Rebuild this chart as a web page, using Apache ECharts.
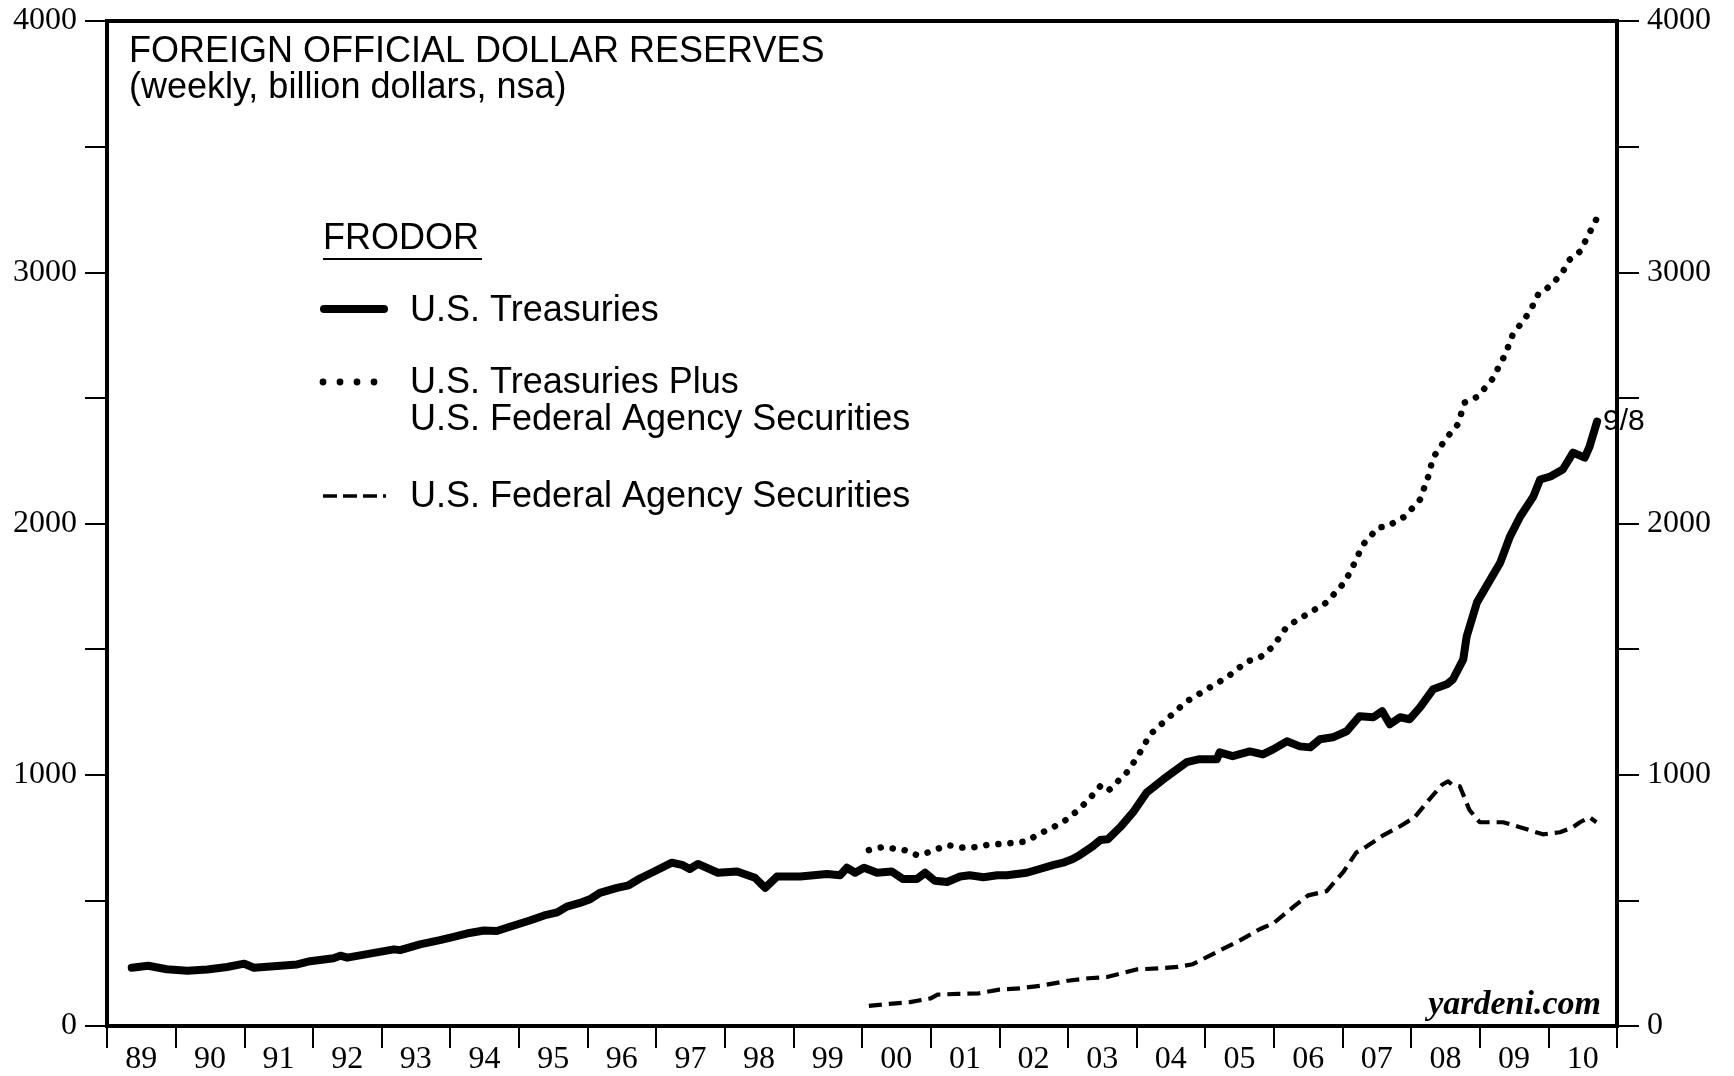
<!DOCTYPE html>
<html>
<head>
<meta charset="utf-8">
<script src="https://cdn.jsdelivr.net/npm/echarts@6/dist/echarts.min.js"></script>
<style>
html,body{margin:0;padding:0;background:#fff;}
#chart{width:1734px;height:1076px;}
</style>
</head>
<body>
<div id="chart"></div>
<script>
// ---- Data ----
const yearLabels = ['89','90','91','92','93','94','95','96','97','98','99','00','01','02','03','04','05','06','07','08','09','10'];

// U.S. Treasuries (billion $), dates as decimal years
const tsyDates = [1989.36,1989.6,1989.87,1990.17,1990.46,1990.75,1991.0,1991.14,1991.43,1991.77,1991.96,1992.3,1992.4,1992.5,1992.83,1993.18,1993.27,1993.56,1993.85,1994.05,1994.24,1994.49,1994.68,1994.87,1995.16,1995.37,1995.56,1995.7,1995.89,1996.04,1996.18,1996.43,1996.6,1996.77,1996.95,1997.23,1997.39,1997.49,1997.61,1997.9,1998.18,1998.44,1998.59,1998.76,1999.1,1999.49,1999.68,1999.78,1999.9,2000.03,2000.22,2000.43,2000.6,2000.8,2000.92,2001.06,2001.24,2001.43,2001.57,2001.77,2001.97,2002.11,2002.4,2002.59,2002.78,2002.93,2003.07,2003.17,2003.36,2003.47,2003.58,2003.76,2003.95,2004.15,2004.39,2004.59,2004.73,2004.92,2005.17,2005.21,2005.4,2005.65,2005.84,2005.99,2006.19,2006.38,2006.53,2006.67,2006.86,2007.06,2007.25,2007.45,2007.58,2007.69,2007.84,2007.98,2008.13,2008.32,2008.52,2008.61,2008.76,2008.81,2008.96,2009.3,2009.44,2009.59,2009.78,2009.88,2010.03,2010.21,2010.36,2010.53,2010.6,2010.71];
const tsyValues = [232,240,226,220,225,235,248,232,238,245,258,270,280,272,288,305,302,325,342,355,368,380,378,395,420,440,452,475,490,505,530,550,560,588,612,650,640,625,645,610,615,590,550,595,595,605,600,630,610,630,610,615,585,585,610,578,573,595,600,592,600,600,610,625,640,650,665,680,715,740,743,791,851,930,982,1022,1050,1062,1062,1089,1074,1093,1081,1101,1133,1113,1109,1141,1149,1173,1233,1229,1253,1201,1229,1221,1268,1340,1360,1380,1459,1551,1686,1845,1948,2028,2107,2175,2187,2215,2282,2262,2306,2406];

// U.S. Treasuries plus U.S. Federal Agency Securities
const totDates = [2000.1,2000.3,2000.5,2000.65,2000.8,2000.95,2001.1,2001.25,2001.45,2001.65,2001.85,2002.05,2002.25,2002.4,2002.55,2002.7,2002.85,2003.0,2003.15,2003.3,2003.47,2003.58,2003.86,2004.02,2004.2,2004.49,2004.73,2005.07,2005.32,2005.61,2005.8,2005.99,2006.19,2006.48,2006.77,2007.04,2007.18,2007.3,2007.52,2007.65,2007.91,2008.13,2008.25,2008.32,2008.52,2008.68,2008.78,2008.97,2009.18,2009.37,2009.48,2009.73,2009.85,2010.05,2010.21,2010.31,2010.46,2010.6,2010.71];
const totValues = [700,712,705,698,680,690,705,720,710,712,722,725,730,735,760,780,800,825,860,900,954,934,1010,1074,1161,1233,1292,1348,1388,1451,1467,1511,1590,1638,1686,1769,1845,1916,1984,1988,2028,2095,2187,2262,2342,2394,2481,2505,2573,2672,2751,2843,2911,2950,3002,3050,3082,3157,3217];

// U.S. Federal Agency Securities
const agyDates = [2000.1,2000.4,2000.7,2001.0,2001.1,2001.4,2001.7,2002.0,2002.3,2002.6,2003.0,2003.3,2003.57,2004.0,2004.34,2004.6,2004.82,2005.11,2005.5,2005.8,2006.0,2006.28,2006.5,2006.77,2007.01,2007.2,2007.36,2007.6,2007.84,2008.05,2008.27,2008.45,2008.54,2008.6,2008.71,2008.85,2009.0,2009.34,2009.6,2009.92,2010.17,2010.35,2010.46,2010.6,2010.7];
const agyValues = [80,88,95,110,125,128,130,145,150,160,180,190,195,225,230,235,246,286,340,386,410,473,520,537,612,690,716,760,795,830,903,960,974,960,954,860,811,811,790,763,771,790,811,831,811];

const yTicks = {min: 0, max: 4000, step: 500, labelStep: 1000};

// ---- Build ----
const zip = (xs, ys) => xs.map((x, i) => [x, ys[i]]);
const chart = echarts.init(document.getElementById('chart'));
const serif = '"Liberation Serif","Times New Roman",serif';
const sans = '"Liberation Sans",Arial,Helvetica,sans-serif';

const yAxisBase = (pos) => ({
  type: 'value', position: pos, min: yTicks.min, max: yTicks.max, interval: yTicks.step,
  axisLine: {show: true, lineStyle: {color: '#000', width: 4}},
  axisTick: {show: true, inside: false, length: 22, lineStyle: {color: '#000', width: 2}},
  axisLabel: {
    margin: 30, color: '#000', fontFamily: serif, fontSize: 32,
    formatter: v => (v % yTicks.labelStep === 0 ? String(v) : '')
  },
  splitLine: {show: false}
});

const txt = (x, y, text, font, extra) => Object.assign({
  type: 'text', x: x, y: y, silent: true,
  style: Object.assign({text: text, font: font, fill: '#000', align: 'left', verticalAlign: 'middle'}, extra || {})
});

const option = {
  backgroundColor: '#fff',
  animation: false,
  grid: {left: 107, right: 117, top: 21, bottom: 49, show: true, borderColor: '#000', borderWidth: 4, backgroundColor: 'transparent'},
  xAxis: [
    {
      type: 'category', data: yearLabels, boundaryGap: true, position: 'bottom',
      axisLine: {show: true, lineStyle: {color: '#000', width: 4}},
      axisTick: {show: true, inside: false, length: 22, interval: 0, lineStyle: {color: '#000', width: 2}},
      axisLabel: {interval: 0, margin: 18, color: '#000', fontFamily: serif, fontSize: 32},
      splitLine: {show: false}
    },
    {type: 'value', min: 1989, max: 2011, show: false, position: 'bottom'}
  ],
  yAxis: [yAxisBase('left'), yAxisBase('right')],
  series: [
    {
      name: 'U.S. Treasuries', type: 'line', xAxisIndex: 1, yAxisIndex: 0,
      data: zip(tsyDates, tsyValues), showSymbol: false, symbol: 'none',
      lineStyle: {color: '#000', width: 8, cap: 'round', join: 'round'},
      endLabel: {show: true, formatter: '9/8', fontFamily: sans, fontSize: 30, color: '#000', distance: 6},
      z: 3
    },
    {
      name: 'U.S. Treasuries Plus U.S. Federal Agency Securities', type: 'line', xAxisIndex: 1, yAxisIndex: 0,
      data: zip(totDates, totValues), showSymbol: false, symbol: 'none',
      lineStyle: {color: '#000', width: 6.5, type: [0.1, 12], cap: 'round', join: 'round'},
      z: 2
    },
    {
      name: 'U.S. Federal Agency Securities', type: 'line', xAxisIndex: 1, yAxisIndex: 0,
      data: zip(agyDates, agyValues), showSymbol: false, symbol: 'none',
      lineStyle: {color: '#000', width: 4.2, type: [13, 7], cap: 'butt', join: 'round'},
      z: 2
    }
  ],
  graphic: [
    txt(129, 52, 'FOREIGN OFFICIAL DOLLAR RESERVES', '36px ' + sans),
    txt(129, 88, '(weekly, billion dollars, nsa)', '36px ' + sans),
    txt(323, 239, 'FRODOR', '36px ' + sans),
    {type: 'line', silent: true, shape: {x1: 323, y1: 259, x2: 482, y2: 259}, style: {stroke: '#000', lineWidth: 2}},
    {type: 'line', silent: true, shape: {x1: 324, y1: 309, x2: 384, y2: 309}, style: {stroke: '#000', lineWidth: 8, lineCap: 'round'}},
    txt(410, 311, 'U.S. Treasuries', '36px ' + sans),
    {type: 'circle', silent: true, shape: {cx: 323, cy: 382, r: 3.4}, style: {fill: '#000'}},
    {type: 'circle', silent: true, shape: {cx: 340, cy: 382, r: 3.4}, style: {fill: '#000'}},
    {type: 'circle', silent: true, shape: {cx: 357, cy: 382, r: 3.4}, style: {fill: '#000'}},
    {type: 'circle', silent: true, shape: {cx: 374, cy: 382, r: 3.4}, style: {fill: '#000'}},
    txt(410, 383, 'U.S. Treasuries Plus', '36px ' + sans),
    txt(410, 420, 'U.S. Federal Agency Securities', '36px ' + sans),
    {type: 'line', silent: true, shape: {x1: 323, y1: 496, x2: 386, y2: 496}, style: {stroke: '#000', lineWidth: 3.5, lineDash: [14, 6]}},
    txt(410, 497, 'U.S. Federal Agency Securities', '36px ' + sans),
    txt(1601, 1005, 'yardeni.com', 'italic bold 34px ' + serif, {align: 'right'})
  ]
};
chart.setOption(option);
</script>
</body>
</html>
